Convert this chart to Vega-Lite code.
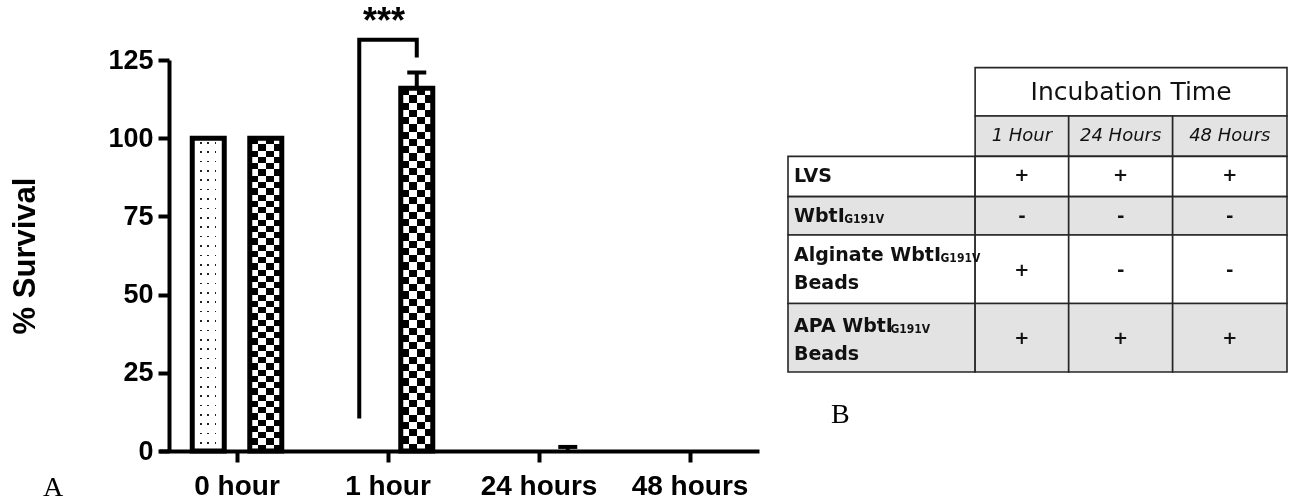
{
  "$schema": "https://vega.github.io/schema/vega-lite/v6.json",
  "background": "white",
  "padding": {"left": 9, "top": 4, "right": 0, "bottom": 0},
  "spacing": 28,
  "config": {"view": {"stroke": null}, "font": "Liberation Sans"},
  "datasets": {
    "bars": [
      {"time": "0 hour", "group": "Alginate", "value": 100, "upper": null},
      {"time": "0 hour", "group": "APA", "value": 100, "upper": null},
      {"time": "1 hour", "group": "Alginate", "value": 0, "upper": null},
      {"time": "1 hour", "group": "APA", "value": 116, "upper": 121},
      {"time": "24 hours", "group": "Alginate", "value": 0, "upper": null},
      {"time": "24 hours", "group": "APA", "value": 0, "upper": 1.3},
      {"time": "48 hours", "group": "Alginate", "value": 0, "upper": null},
      {"time": "48 hours", "group": "APA", "value": 0, "upper": null}
    ],
    "bracket": [
      {"time": "1 hour", "group": "Alginate", "value": 10.4, "ord": 1},
      {"time": "1 hour", "group": "Alginate", "value": 131.5, "ord": 2},
      {"time": "1 hour", "group": "APA", "value": 131.5, "ord": 3},
      {"time": "1 hour", "group": "APA", "value": 125.8, "ord": 4}
    ],
    "stars": [
      {"time": "1 hour", "value": 133.5, "label": "***"}
    ],
    "cells": [
      {"c0": 1.8, "c1": 4.8, "r0": 0, "r1": 1.2, "band": "plain"},
      {"c0": 1.8, "c1": 2.7, "r0": 1.2, "r1": 2.2, "band": "shaded"},
      {"c0": 2.7, "c1": 3.7, "r0": 1.2, "r1": 2.2, "band": "shaded"},
      {"c0": 3.7, "c1": 4.8, "r0": 1.2, "r1": 2.2, "band": "shaded"},
      {"c0": 0, "c1": 1.8, "r0": 2.2, "r1": 3.2, "band": "plain"},
      {"c0": 1.8, "c1": 2.7, "r0": 2.2, "r1": 3.2, "band": "plain"},
      {"c0": 2.7, "c1": 3.7, "r0": 2.2, "r1": 3.2, "band": "plain"},
      {"c0": 3.7, "c1": 4.8, "r0": 2.2, "r1": 3.2, "band": "plain"},
      {"c0": 0, "c1": 1.8, "r0": 3.2, "r1": 4.15, "band": "shaded"},
      {"c0": 1.8, "c1": 2.7, "r0": 3.2, "r1": 4.15, "band": "shaded"},
      {"c0": 2.7, "c1": 3.7, "r0": 3.2, "r1": 4.15, "band": "shaded"},
      {"c0": 3.7, "c1": 4.8, "r0": 3.2, "r1": 4.15, "band": "shaded"},
      {"c0": 0, "c1": 1.8, "r0": 4.15, "r1": 5.85, "band": "plain"},
      {"c0": 1.8, "c1": 2.7, "r0": 4.15, "r1": 5.85, "band": "plain"},
      {"c0": 2.7, "c1": 3.7, "r0": 4.15, "r1": 5.85, "band": "plain"},
      {"c0": 3.7, "c1": 4.8, "r0": 4.15, "r1": 5.85, "band": "plain"},
      {"c0": 0, "c1": 1.8, "r0": 5.85, "r1": 7.55, "band": "shaded"},
      {"c0": 1.8, "c1": 2.7, "r0": 5.85, "r1": 7.55, "band": "shaded"},
      {"c0": 2.7, "c1": 3.7, "r0": 5.85, "r1": 7.55, "band": "shaded"},
      {"c0": 3.7, "c1": 4.8, "r0": 5.85, "r1": 7.55, "band": "shaded"}
    ],
    "texts": [
      {"kind": "header", "text": "Incubation Time", "x": 3.3, "y": 0.6},
      {"kind": "sub", "text": "1 Hour", "x": 2.25, "y": 1.7},
      {"kind": "sub", "text": "24 Hours", "x": 3.2, "y": 1.7},
      {"kind": "sub", "text": "48 Hours", "x": 4.25, "y": 1.7},
      {"kind": "label", "text": "LVS", "x": 0, "y": 2.68},
      {"kind": "label", "text": "WbtI", "x": 0, "y": 3.67},
      {"kind": "label", "text": "Alginate WbtI", "x": 0, "y": 4.65},
      {"kind": "label", "text": "Beads", "x": 0, "y": 5.35},
      {"kind": "label", "text": "APA WbtI", "x": 0, "y": 6.4},
      {"kind": "label", "text": "Beads", "x": 0, "y": 7.1},
      {"kind": "subscript", "text": "G191V", "x": 0.541, "y": 3.67},
      {"kind": "subscript", "text": "G191V", "x": 1.467, "y": 4.65},
      {"kind": "subscript", "text": "G191V", "x": 0.985, "y": 6.4},
      {"kind": "mark", "text": "+", "x": 2.25, "y": 2.7},
      {"kind": "mark", "text": "+", "x": 3.2, "y": 2.7},
      {"kind": "mark", "text": "+", "x": 4.25, "y": 2.7},
      {"kind": "mark", "text": "-", "x": 2.25, "y": 3.7},
      {"kind": "mark", "text": "-", "x": 3.2, "y": 3.7},
      {"kind": "mark", "text": "-", "x": 4.25, "y": 3.7},
      {"kind": "mark", "text": "+", "x": 2.25, "y": 5.05},
      {"kind": "mark", "text": "-", "x": 3.2, "y": 5.05},
      {"kind": "mark", "text": "-", "x": 4.25, "y": 5.05},
      {"kind": "mark", "text": "+", "x": 2.25, "y": 6.72},
      {"kind": "mark", "text": "+", "x": 3.2, "y": 6.72},
      {"kind": "mark", "text": "+", "x": 4.25, "y": 6.72}
    ]
  },
  "hconcat": [
    {
      "width": 600,
      "height": 391,
      "data": {"name": "bars"},
      "title": {"text": "A", "orient": "bottom", "anchor": "start", "frame": "group", "font": "Liberation Serif", "fontSize": 28, "fontWeight": "normal", "color": "black", "dx": -116, "offset": -4, "baseline": "alphabetic"},
      "encoding": {
        "x": {
          "field": "time", "type": "nominal",
          "sort": ["0 hour", "1 hour", "24 hours", "48 hours"],
          "scale": {"domain": ["0 hour", "1 hour", "24 hours", "48 hours"], "paddingInner": 0.2, "paddingOuter": 0.0868, "align": 0.672},
          "axis": {"title": null, "labelAngle": 0, "labelFont": "Liberation Sans", "labelFontSize": 28, "labelFontWeight": "bold", "labelColor": "black", "labelPadding": 10, "tickSize": 11, "tickWidth": 4, "tickColor": "black", "domainWidth": 4, "domainColor": "black", "grid": false}
        },
        "y": {
          "field": "value", "type": "quantitative",
          "scale": {"domain": [0, 125], "nice": false, "zero": true},
          "axis": {"title": "% Survival", "titleFont": "Liberation Sans", "titleFontSize": 31, "titleFontWeight": "bold", "titleColor": "black", "titlePadding": 66, "values": [0, 25, 50, 75, 100, 125], "labelFont": "Liberation Sans", "labelFontSize": 27, "labelFontWeight": "bold", "labelColor": "black", "labelPadding": 5, "tickSize": 11, "tickWidth": 4, "tickColor": "black", "domainWidth": 4, "domainColor": "black", "grid": false, "offset": -10}
        }
      },
      "layer": [
        {
          "transform": [{"filter": "datum.group === 'Alginate' && datum.value > 0"}],
          "mark": {"type": "bar", "stroke": null, "fill": {"gradient": "linear", "x1": 0, "y1": 0, "x2": 1, "y2": 0, "stops": [
            {"offset": 0, "color": "#ffffff"}, {"offset": 0.245, "color": "#ffffff"}, {"offset": 0.245, "color": "#222222"}, {"offset": 0.295, "color": "#222222"},
            {"offset": 0.295, "color": "#ffffff"}, {"offset": 0.475, "color": "#ffffff"}, {"offset": 0.475, "color": "#222222"}, {"offset": 0.525, "color": "#222222"},
            {"offset": 0.525, "color": "#ffffff"}, {"offset": 0.705, "color": "#ffffff"}, {"offset": 0.705, "color": "#222222"}, {"offset": 0.755, "color": "#222222"},
            {"offset": 0.755, "color": "#ffffff"}, {"offset": 1, "color": "#ffffff"}]}},
          "encoding": {"xOffset": {"field": "group", "type": "nominal", "scale": {"domain": ["Alginate", "APA"], "paddingInner": 0.4435, "paddingOuter": 0.272}}}
        },
        {
          "transform": [{"filter": "datum.group === 'Alginate' && datum.value > 0"}],
          "mark": {"type": "bar", "stroke": null, "blend": "lighten", "fill": {"gradient": "linear", "x1": 0, "y1": 0, "x2": 0, "y2": 1, "stops": [
            {"offset": 0, "color": "#ffffff"},
            {"offset": 0.012, "color": "#ffffff"}, {"offset": 0.012, "color": "#222222"}, {"offset": 0.017, "color": "#222222"}, {"offset": 0.017, "color": "#ffffff"},
            {"offset": 0.042, "color": "#ffffff"}, {"offset": 0.042, "color": "#222222"}, {"offset": 0.047, "color": "#222222"}, {"offset": 0.047, "color": "#ffffff"},
            {"offset": 0.072, "color": "#ffffff"}, {"offset": 0.072, "color": "#222222"}, {"offset": 0.077, "color": "#222222"}, {"offset": 0.077, "color": "#ffffff"},
            {"offset": 0.102, "color": "#ffffff"}, {"offset": 0.102, "color": "#222222"}, {"offset": 0.107, "color": "#222222"}, {"offset": 0.107, "color": "#ffffff"},
            {"offset": 0.132, "color": "#ffffff"}, {"offset": 0.132, "color": "#222222"}, {"offset": 0.137, "color": "#222222"}, {"offset": 0.137, "color": "#ffffff"},
            {"offset": 0.162, "color": "#ffffff"}, {"offset": 0.162, "color": "#222222"}, {"offset": 0.167, "color": "#222222"}, {"offset": 0.167, "color": "#ffffff"},
            {"offset": 0.192, "color": "#ffffff"}, {"offset": 0.192, "color": "#222222"}, {"offset": 0.197, "color": "#222222"}, {"offset": 0.197, "color": "#ffffff"},
            {"offset": 0.222, "color": "#ffffff"}, {"offset": 0.222, "color": "#222222"}, {"offset": 0.227, "color": "#222222"}, {"offset": 0.227, "color": "#ffffff"},
            {"offset": 0.252, "color": "#ffffff"}, {"offset": 0.252, "color": "#222222"}, {"offset": 0.257, "color": "#222222"}, {"offset": 0.257, "color": "#ffffff"},
            {"offset": 0.282, "color": "#ffffff"}, {"offset": 0.282, "color": "#222222"}, {"offset": 0.287, "color": "#222222"}, {"offset": 0.287, "color": "#ffffff"},
            {"offset": 0.312, "color": "#ffffff"}, {"offset": 0.312, "color": "#222222"}, {"offset": 0.317, "color": "#222222"}, {"offset": 0.317, "color": "#ffffff"},
            {"offset": 0.342, "color": "#ffffff"}, {"offset": 0.342, "color": "#222222"}, {"offset": 0.347, "color": "#222222"}, {"offset": 0.347, "color": "#ffffff"},
            {"offset": 0.372, "color": "#ffffff"}, {"offset": 0.372, "color": "#222222"}, {"offset": 0.377, "color": "#222222"}, {"offset": 0.377, "color": "#ffffff"},
            {"offset": 0.402, "color": "#ffffff"}, {"offset": 0.402, "color": "#222222"}, {"offset": 0.407, "color": "#222222"}, {"offset": 0.407, "color": "#ffffff"},
            {"offset": 0.432, "color": "#ffffff"}, {"offset": 0.432, "color": "#222222"}, {"offset": 0.437, "color": "#222222"}, {"offset": 0.437, "color": "#ffffff"},
            {"offset": 0.462, "color": "#ffffff"}, {"offset": 0.462, "color": "#222222"}, {"offset": 0.467, "color": "#222222"}, {"offset": 0.467, "color": "#ffffff"},
            {"offset": 0.492, "color": "#ffffff"}, {"offset": 0.492, "color": "#222222"}, {"offset": 0.497, "color": "#222222"}, {"offset": 0.497, "color": "#ffffff"},
            {"offset": 0.522, "color": "#ffffff"}, {"offset": 0.522, "color": "#222222"}, {"offset": 0.527, "color": "#222222"}, {"offset": 0.527, "color": "#ffffff"},
            {"offset": 0.552, "color": "#ffffff"}, {"offset": 0.552, "color": "#222222"}, {"offset": 0.557, "color": "#222222"}, {"offset": 0.557, "color": "#ffffff"},
            {"offset": 0.582, "color": "#ffffff"}, {"offset": 0.582, "color": "#222222"}, {"offset": 0.587, "color": "#222222"}, {"offset": 0.587, "color": "#ffffff"},
            {"offset": 0.612, "color": "#ffffff"}, {"offset": 0.612, "color": "#222222"}, {"offset": 0.617, "color": "#222222"}, {"offset": 0.617, "color": "#ffffff"},
            {"offset": 0.642, "color": "#ffffff"}, {"offset": 0.642, "color": "#222222"}, {"offset": 0.647, "color": "#222222"}, {"offset": 0.647, "color": "#ffffff"},
            {"offset": 0.672, "color": "#ffffff"}, {"offset": 0.672, "color": "#222222"}, {"offset": 0.677, "color": "#222222"}, {"offset": 0.677, "color": "#ffffff"},
            {"offset": 0.702, "color": "#ffffff"}, {"offset": 0.702, "color": "#222222"}, {"offset": 0.707, "color": "#222222"}, {"offset": 0.707, "color": "#ffffff"},
            {"offset": 0.732, "color": "#ffffff"}, {"offset": 0.732, "color": "#222222"}, {"offset": 0.737, "color": "#222222"}, {"offset": 0.737, "color": "#ffffff"},
            {"offset": 0.762, "color": "#ffffff"}, {"offset": 0.762, "color": "#222222"}, {"offset": 0.767, "color": "#222222"}, {"offset": 0.767, "color": "#ffffff"},
            {"offset": 0.792, "color": "#ffffff"}, {"offset": 0.792, "color": "#222222"}, {"offset": 0.797, "color": "#222222"}, {"offset": 0.797, "color": "#ffffff"},
            {"offset": 0.822, "color": "#ffffff"}, {"offset": 0.822, "color": "#222222"}, {"offset": 0.827, "color": "#222222"}, {"offset": 0.827, "color": "#ffffff"},
            {"offset": 0.852, "color": "#ffffff"}, {"offset": 0.852, "color": "#222222"}, {"offset": 0.857, "color": "#222222"}, {"offset": 0.857, "color": "#ffffff"},
            {"offset": 0.882, "color": "#ffffff"}, {"offset": 0.882, "color": "#222222"}, {"offset": 0.887, "color": "#222222"}, {"offset": 0.887, "color": "#ffffff"},
            {"offset": 0.912, "color": "#ffffff"}, {"offset": 0.912, "color": "#222222"}, {"offset": 0.917, "color": "#222222"}, {"offset": 0.917, "color": "#ffffff"},
            {"offset": 0.942, "color": "#ffffff"}, {"offset": 0.942, "color": "#222222"}, {"offset": 0.947, "color": "#222222"}, {"offset": 0.947, "color": "#ffffff"},
            {"offset": 0.972, "color": "#ffffff"}, {"offset": 0.972, "color": "#222222"}, {"offset": 0.977, "color": "#222222"}, {"offset": 0.977, "color": "#ffffff"},
            {"offset": 1, "color": "#ffffff"}]}},
          "encoding": {"xOffset": {"field": "group", "type": "nominal", "scale": {"domain": ["Alginate", "APA"], "paddingInner": 0.4435, "paddingOuter": 0.272}}}
        },
        {
          "transform": [{"filter": "datum.group === 'APA' && datum.value > 0"}],
          "mark": {"type": "bar", "stroke": null, "fill": {"gradient": "linear", "x1": 0, "y1": 0, "x2": 1, "y2": 0, "stops": [
            {"offset": 0, "color": "#ffffff"}, {"offset": 0.25, "color": "#ffffff"}, {"offset": 0.25, "color": "#000000"}, {"offset": 0.5, "color": "#000000"},
            {"offset": 0.5, "color": "#ffffff"}, {"offset": 0.75, "color": "#ffffff"}, {"offset": 0.75, "color": "#000000"}, {"offset": 1, "color": "#000000"}]}},
          "encoding": {"xOffset": {"field": "group", "type": "nominal", "scale": {"domain": ["Alginate", "APA"], "paddingInner": 0.4435, "paddingOuter": 0.272}}}
        },
        {
          "transform": [{"filter": "datum.group === 'APA' && datum.value > 0"}],
          "mark": {"type": "bar", "stroke": null, "blend": "difference", "fill": {"gradient": "linear", "x1": 0, "y1": 0, "x2": 0, "y2": 1, "stops": [
            {"offset": 0, "color": "#ffffff"}, {"offset": 0.02, "color": "#ffffff"}, {"offset": 0.02, "color": "#000000"}, {"offset": 0.04, "color": "#000000"},
            {"offset": 0.04, "color": "#ffffff"}, {"offset": 0.06, "color": "#ffffff"}, {"offset": 0.06, "color": "#000000"}, {"offset": 0.08, "color": "#000000"},
            {"offset": 0.08, "color": "#ffffff"}, {"offset": 0.1, "color": "#ffffff"}, {"offset": 0.1, "color": "#000000"}, {"offset": 0.12, "color": "#000000"},
            {"offset": 0.12, "color": "#ffffff"}, {"offset": 0.14, "color": "#ffffff"}, {"offset": 0.14, "color": "#000000"}, {"offset": 0.16, "color": "#000000"},
            {"offset": 0.16, "color": "#ffffff"}, {"offset": 0.18, "color": "#ffffff"}, {"offset": 0.18, "color": "#000000"}, {"offset": 0.2, "color": "#000000"},
            {"offset": 0.2, "color": "#ffffff"}, {"offset": 0.22, "color": "#ffffff"}, {"offset": 0.22, "color": "#000000"}, {"offset": 0.24, "color": "#000000"},
            {"offset": 0.24, "color": "#ffffff"}, {"offset": 0.26, "color": "#ffffff"}, {"offset": 0.26, "color": "#000000"}, {"offset": 0.28, "color": "#000000"},
            {"offset": 0.28, "color": "#ffffff"}, {"offset": 0.3, "color": "#ffffff"}, {"offset": 0.3, "color": "#000000"}, {"offset": 0.32, "color": "#000000"},
            {"offset": 0.32, "color": "#ffffff"}, {"offset": 0.34, "color": "#ffffff"}, {"offset": 0.34, "color": "#000000"}, {"offset": 0.36, "color": "#000000"},
            {"offset": 0.36, "color": "#ffffff"}, {"offset": 0.38, "color": "#ffffff"}, {"offset": 0.38, "color": "#000000"}, {"offset": 0.4, "color": "#000000"},
            {"offset": 0.4, "color": "#ffffff"}, {"offset": 0.42, "color": "#ffffff"}, {"offset": 0.42, "color": "#000000"}, {"offset": 0.44, "color": "#000000"},
            {"offset": 0.44, "color": "#ffffff"}, {"offset": 0.46, "color": "#ffffff"}, {"offset": 0.46, "color": "#000000"}, {"offset": 0.48, "color": "#000000"},
            {"offset": 0.48, "color": "#ffffff"}, {"offset": 0.5, "color": "#ffffff"}, {"offset": 0.5, "color": "#000000"}, {"offset": 0.52, "color": "#000000"},
            {"offset": 0.52, "color": "#ffffff"}, {"offset": 0.54, "color": "#ffffff"}, {"offset": 0.54, "color": "#000000"}, {"offset": 0.56, "color": "#000000"},
            {"offset": 0.56, "color": "#ffffff"}, {"offset": 0.58, "color": "#ffffff"}, {"offset": 0.58, "color": "#000000"}, {"offset": 0.6, "color": "#000000"},
            {"offset": 0.6, "color": "#ffffff"}, {"offset": 0.62, "color": "#ffffff"}, {"offset": 0.62, "color": "#000000"}, {"offset": 0.64, "color": "#000000"},
            {"offset": 0.64, "color": "#ffffff"}, {"offset": 0.66, "color": "#ffffff"}, {"offset": 0.66, "color": "#000000"}, {"offset": 0.68, "color": "#000000"},
            {"offset": 0.68, "color": "#ffffff"}, {"offset": 0.7, "color": "#ffffff"}, {"offset": 0.7, "color": "#000000"}, {"offset": 0.72, "color": "#000000"},
            {"offset": 0.72, "color": "#ffffff"}, {"offset": 0.74, "color": "#ffffff"}, {"offset": 0.74, "color": "#000000"}, {"offset": 0.76, "color": "#000000"},
            {"offset": 0.76, "color": "#ffffff"}, {"offset": 0.78, "color": "#ffffff"}, {"offset": 0.78, "color": "#000000"}, {"offset": 0.8, "color": "#000000"},
            {"offset": 0.8, "color": "#ffffff"}, {"offset": 0.82, "color": "#ffffff"}, {"offset": 0.82, "color": "#000000"}, {"offset": 0.84, "color": "#000000"},
            {"offset": 0.84, "color": "#ffffff"}, {"offset": 0.86, "color": "#ffffff"}, {"offset": 0.86, "color": "#000000"}, {"offset": 0.88, "color": "#000000"},
            {"offset": 0.88, "color": "#ffffff"}, {"offset": 0.9, "color": "#ffffff"}, {"offset": 0.9, "color": "#000000"}, {"offset": 0.92, "color": "#000000"},
            {"offset": 0.92, "color": "#ffffff"}, {"offset": 0.94, "color": "#ffffff"}, {"offset": 0.94, "color": "#000000"}, {"offset": 0.96, "color": "#000000"},
            {"offset": 0.96, "color": "#ffffff"}, {"offset": 0.98, "color": "#ffffff"}, {"offset": 0.98, "color": "#000000"}, {"offset": 1, "color": "#000000"}]}},
          "encoding": {"xOffset": {"field": "group", "type": "nominal", "scale": {"domain": ["Alginate", "APA"], "paddingInner": 0.4435, "paddingOuter": 0.272}}}
        },
        {
          "transform": [{"filter": "datum.value > 0"}],
          "mark": {"type": "bar", "filled": false, "color": "black", "stroke": "black", "strokeWidth": 5, "strokeJoin": "miter"},
          "encoding": {"xOffset": {"field": "group", "type": "nominal", "scale": {"domain": ["Alginate", "APA"], "paddingInner": 0.4435, "paddingOuter": 0.272}}}
        },
        {
          "transform": [{"filter": "datum.upper != null"}],
          "mark": {"type": "rule", "color": "black", "strokeWidth": 4},
          "encoding": {
            "xOffset": {"field": "group", "type": "nominal", "scale": {"domain": ["Alginate", "APA"], "paddingInner": 0.4435, "paddingOuter": 0.272}},
            "y2": {"field": "upper"}
          }
        },
        {
          "transform": [{"filter": "datum.upper != null"}],
          "mark": {"type": "tick", "orient": "horizontal", "color": "black", "size": 19, "thickness": 4, "opacity": 1},
          "encoding": {
            "xOffset": {"field": "group", "type": "nominal", "scale": {"domain": ["Alginate", "APA"], "paddingInner": 0.4435, "paddingOuter": 0.272}},
            "y": {"field": "upper", "type": "quantitative"}
          }
        },
        {
          "data": {"name": "bracket"},
          "mark": {"type": "line", "color": "black", "strokeWidth": 4, "strokeJoin": "miter", "strokeCap": "butt"},
          "encoding": {
            "xOffset": {"field": "group", "type": "nominal", "scale": {"domain": ["Alginate", "APA"], "paddingInner": 0.4435, "paddingOuter": 0.272}},
            "order": {"field": "ord", "type": "quantitative"}
          }
        },
        {
          "data": {"name": "stars"},
          "mark": {"type": "text", "font": "Liberation Sans", "fontSize": 36, "fontWeight": "bold", "baseline": "alphabetic", "dx": -4, "color": "black"},
          "encoding": {"text": {"field": "label"}}
        }
      ]
    },
    {
      "width": 499,
      "height": 312,
      "title": {"text": "B", "orient": "bottom", "anchor": "start", "frame": "group", "font": "Liberation Serif", "fontSize": 28, "fontWeight": "normal", "color": "black", "dx": 43, "offset": 50, "baseline": "alphabetic"},
      "layer": [
        {
          "data": {"name": "cells"},
          "mark": {"type": "rect", "stroke": "#262626", "strokeWidth": 1.6},
          "encoding": {
            "x": {"field": "c0", "type": "quantitative", "scale": {"domain": [0, 4.8], "nice": false, "zero": false}, "axis": null},
            "x2": {"field": "c1"},
            "y": {"field": "r0", "type": "quantitative", "scale": {"domain": [-0.19, 7.55], "nice": false, "zero": false, "reverse": true}, "axis": null},
            "y2": {"field": "r1"},
            "fill": {"field": "band", "type": "nominal", "scale": {"domain": ["plain", "shaded"], "range": ["#ffffff", "#e3e3e3"]}, "legend": null}
          }
        },
        {
          "data": {"name": "texts"},
          "transform": [{"filter": "datum.kind === 'header'"}],
          "mark": {"type": "text", "font": "DejaVu Sans", "fontSize": 25, "color": "#111111"},
          "encoding": {
            "x": {"field": "x", "type": "quantitative", "scale": {"domain": [0, 4.8], "nice": false, "zero": false}, "axis": null},
            "y": {"field": "y", "type": "quantitative", "scale": {"domain": [-0.19, 7.55], "nice": false, "zero": false, "reverse": true}, "axis": null},
            "text": {"field": "text"}
          }
        },
        {
          "data": {"name": "texts"},
          "transform": [{"filter": "datum.kind === 'sub'"}],
          "mark": {"type": "text", "font": "DejaVu Sans", "fontSize": 18, "fontStyle": "italic", "color": "#111111"},
          "encoding": {
            "x": {"field": "x", "type": "quantitative", "scale": {"domain": [0, 4.8], "nice": false, "zero": false}, "axis": null},
            "y": {"field": "y", "type": "quantitative", "scale": {"domain": [-0.19, 7.55], "nice": false, "zero": false, "reverse": true}, "axis": null},
            "text": {"field": "text"}
          }
        },
        {
          "data": {"name": "texts"},
          "transform": [{"filter": "datum.kind === 'label'"}],
          "mark": {"type": "text", "font": "DejaVu Sans", "fontSize": 19, "fontWeight": "bold", "align": "left", "dx": 6, "color": "#111111"},
          "encoding": {
            "x": {"field": "x", "type": "quantitative", "scale": {"domain": [0, 4.8], "nice": false, "zero": false}, "axis": null},
            "y": {"field": "y", "type": "quantitative", "scale": {"domain": [-0.19, 7.55], "nice": false, "zero": false, "reverse": true}, "axis": null},
            "text": {"field": "text"}
          }
        },
        {
          "data": {"name": "texts"},
          "transform": [{"filter": "datum.kind === 'subscript'"}],
          "mark": {"type": "text", "font": "Liberation Sans Narrow, DejaVu Sans Condensed, Liberation Sans", "fontSize": 12, "fontWeight": "bold", "align": "left", "dy": 3, "color": "#111111"},
          "encoding": {
            "x": {"field": "x", "type": "quantitative", "scale": {"domain": [0, 4.8], "nice": false, "zero": false}, "axis": null},
            "y": {"field": "y", "type": "quantitative", "scale": {"domain": [-0.19, 7.55], "nice": false, "zero": false, "reverse": true}, "axis": null},
            "text": {"field": "text"}
          }
        },
        {
          "data": {"name": "texts"},
          "transform": [{"filter": "datum.kind === 'mark'"}],
          "mark": {"type": "text", "font": "DejaVu Sans", "fontSize": 18, "fontWeight": "bold", "color": "#111111"},
          "encoding": {
            "x": {"field": "x", "type": "quantitative", "scale": {"domain": [0, 4.8], "nice": false, "zero": false}, "axis": null},
            "y": {"field": "y", "type": "quantitative", "scale": {"domain": [-0.19, 7.55], "nice": false, "zero": false, "reverse": true}, "axis": null},
            "text": {"field": "text"}
          }
        }
      ]
    }
  ]
}
